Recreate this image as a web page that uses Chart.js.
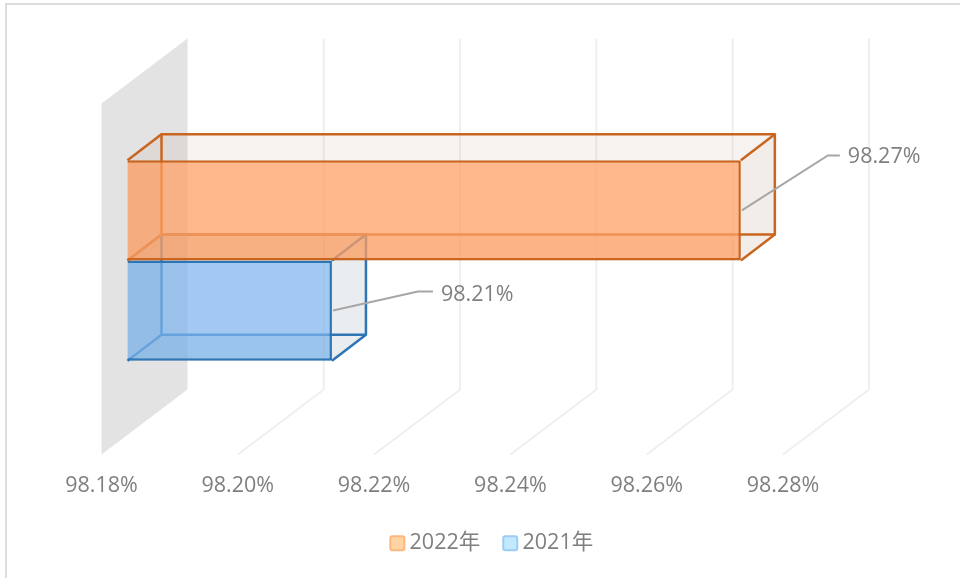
<!DOCTYPE html>
<html><head><meta charset="utf-8">
<style>html,body{margin:0;padding:0;background:#fff}canvas{display:block}</style>
<script src="https://cdn.jsdelivr.net/npm/chart.js@4"></script>
</head><body><canvas id="c" width="960" height="578"></canvas>
<script>
const categories = [''];
const seriesNames = ['2022年', '2021年'];
const values2022 = [98.27];
const values2021 = [98.21];
const axisMin = 98.18, axisMax = 98.28, axisStep = 0.02;
const FONT = '"Open Sans","Noto Sans CJK SC",sans-serif';
const FS = 21.5;
const TEXT = '#7f7f7f';
const styles = [
  {front:'rgba(255,160,100,0.75)',edge:'#c9651f',face:'rgba(130,80,40,0.10)',top:'rgba(130,80,40,0.07)',leg:'#ffd4a3',legB:'#ffb67f'},
  {front:'rgba(125,180,235,0.72)',edge:'#2e75b6',face:'rgba(60,90,120,0.11)',top:'rgba(60,90,120,0.10)',leg:'#c3e9ff',legB:'#9ccbf5'}
];
const leaderOffsets = [[86,-55,12,1],[85,-19,15,3]];
// projection of the 3D box: bar plane -> axis front plane and -> bar back / wall back
const front = {dx:-26,dy:18.5}, barBack = {dx:34,dy:-26}, wallBack = {dx:60,dy:-46.5};

const poly = (c,pts,fill,stroke)=>{
  c.beginPath();pts.forEach((p,i)=>i?c.lineTo(p[0],p[1]):c.moveTo(p[0],p[1]));c.closePath();
  if(fill){c.fillStyle=fill;c.fill();}
  if(stroke){c.strokeStyle=stroke;c.lineWidth=2.5;c.lineJoin='round';c.stroke();}
};
const threeD = {
  id:'threeD',
  afterLayout(chart){ chart.legend.left+=23; chart.legend.right+=23; },
  beforeDraw(chart){
    const c=chart.ctx,a=chart.chartArea,x=chart.scales.x;
    c.save();
    c.strokeStyle='#dcdcdc';c.lineWidth=2;
    c.beginPath();c.moveTo(6,578);c.lineTo(6,4);c.lineTo(960,4);c.stroke();
    const t=a.top+front.dy,b=a.bottom+front.dy;
    const bt=a.top+wallBack.dy,bb=a.bottom+wallBack.dy;
    x.ticks.forEach((tk,i)=>{
      const p=x.getPixelForTick(i),fx=p+front.dx,bx=p+wallBack.dx;
      if(i===0){ poly(c,[[fx,t],[bx,bt],[bx,bb],[fx,b]],'#e3e3e3'); return; }
      c.strokeStyle='#efefef';c.lineWidth=2;
      c.beginPath();c.moveTo(fx,b);c.lineTo(bx,bb);c.lineTo(bx,bt);c.stroke();
    });
    c.restore();
  },
  beforeDatasetDraw(chart,args){
    const c=chart.ctx,s=styles[args.index];
    const bar=chart.getDatasetMeta(args.index).data[0];
    const l=bar.base,r=bar.x,t=bar.y-bar.height/2,b=bar.y+bar.height/2;
    const dx=barBack.dx,dy=barBack.dy;
    c.save();
    poly(c,[[l,t],[l+dx,t],[l+dx,b+dy],[l,b]],s.face);
    poly(c,[[l+dx,b+dy],[r,b+dy],[r,b],[l,b]],s.face);
    poly(c,[[l,t],[r,t],[r+dx,t+dy],[l+dx,t+dy]],s.top);
    poly(c,[[r,t],[r+dx,t+dy],[r+dx,b+dy],[r,b]],s.face);
    poly(c,[[l+dx,t+dy],[r+dx,t+dy],[r+dx,b+dy],[l+dx,b+dy]],null,s.edge);
    [[l,t],[r,t],[r,b],[l,b]].forEach(p=>{c.beginPath();c.moveTo(p[0],p[1]);c.lineTo(p[0]+dx,p[1]+dy);c.strokeStyle=s.edge;c.lineWidth=2.5;c.stroke();});
    c.restore();
  },
  afterDatasetsDraw(chart){
    const c=chart.ctx;
    c.save();
    chart.data.datasets.forEach((d,i)=>{
      const bar=chart.getDatasetMeta(i).data[0],o=leaderOffsets[i];
      const x0=bar.x+1,y0=bar.y;
      c.strokeStyle='#a6a6a6';c.lineWidth=2;
      c.beginPath();c.moveTo(x0,y0);c.lineTo(x0+o[0],y0+o[1]);c.lineTo(x0+o[0]+o[2],y0+o[1]);c.stroke();
      c.fillStyle=TEXT;c.font=FS+'px '+FONT;c.textBaseline='middle';c.textAlign='left';
      c.fillText(d.data[0].toFixed(2)+'%',x0+o[0]+o[2]+8,y0+o[1]+o[3]);
    });
    c.restore();
  },
  afterDraw(chart){
    const c=chart.ctx;
    c.save();
    chart.legend.legendHitBoxes.forEach((h,i)=>{
      const s=styles[i],y=h.top+h.height/2-7;
      c.beginPath();c.roundRect(h.left+1,y,14,14,2);
      c.fillStyle=s.leg;c.fill();c.strokeStyle=s.legB;c.lineWidth=2;c.stroke();
    });
    c.restore();
  }
};
new Chart(document.getElementById('c'),{
  type:'bar',
  data:{labels:categories,datasets:[
    {label:seriesNames[0],data:values2022,base:axisMin,clip:false,backgroundColor:styles[0].front,borderColor:styles[0].edge,borderWidth:2.5,categoryPercentage:0.5706,barPercentage:1},
    {label:seriesNames[1],data:values2021,base:axisMin,clip:false,backgroundColor:styles[1].front,borderColor:styles[1].edge,borderWidth:2.5,categoryPercentage:0.5706,barPercentage:1}
  ]},
  options:{
    indexAxis:'y',responsive:false,animation:false,
    layout:{padding:{left:127.5,right:151,top:85,bottom:14}},
    scales:{
      x:{min:axisMin,max:axisMax,grid:{display:false,drawTicks:false},border:{display:false},
        afterFit:s=>{s.height=74.5;},
        ticks:{stepSize:axisStep,padding:36.5,labelOffset:front.dx,maxRotation:0,color:TEXT,font:{size:FS,family:FONT},callback:v=>v.toFixed(2)+'%'}},
      y:{display:false}
    },
    plugins:{
      tooltip:{enabled:false},
      legend:{position:'bottom',labels:{boxWidth:9.5,boxHeight:14,padding:22,color:TEXT,font:{size:FS,family:FONT},
        generateLabels:ch=>ch.data.datasets.map((d,i)=>({text:d.label,fillStyle:'rgba(0,0,0,0)',strokeStyle:'rgba(0,0,0,0)',lineWidth:0,datasetIndex:i,fontColor:TEXT}))}}
    }
  },
  plugins:[threeD]
});
</script></body></html>
